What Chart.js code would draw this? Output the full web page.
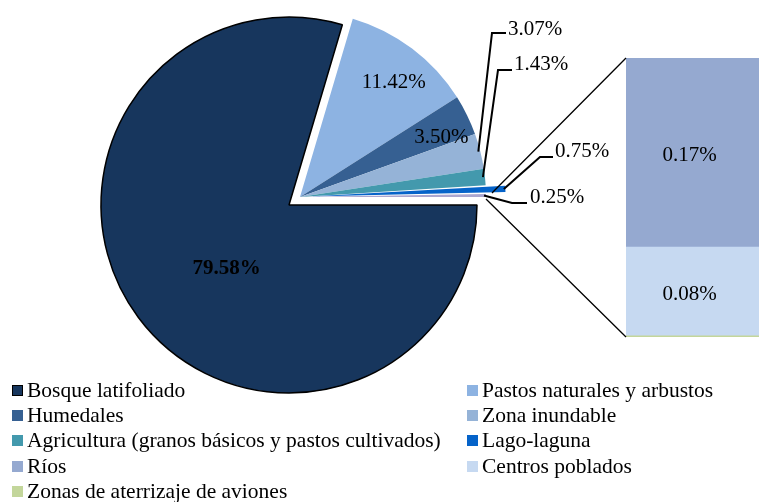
<!DOCTYPE html>
<html>
<head>
<meta charset="utf-8">
<script src="https://cdn.jsdelivr.net/npm/chart.js@4.4.1/dist/chart.umd.min.js"></script>
<style>
  body { margin: 0; width: 759px; height: 502px; overflow: hidden; background: #fff; position: relative;
         font-family: "Liberation Serif", "Times New Roman", serif; }
  canvas { position: absolute; left: 0; top: 0; }
  .item { position: absolute; font-size: 21.5px; line-height: 22px; white-space: nowrap; display: flex; align-items: center; color: #000; }
  .box { width: 11px; height: 11px; margin-right: 4px; box-sizing: border-box; }
</style>
</head>
<body>
<canvas id="pieBig" width="759" height="502"></canvas>
<canvas id="pieSmall" width="759" height="502"></canvas>
<canvas id="barOther" width="759" height="502"></canvas>
<div id="legend"></div>
<script>
// pie slices (percent of area)
var pieLabels = ['Bosque latifoliado', 'Pastos naturales y arbustos', 'Humedales', 'Zona inundable',
  'Agricultura (granos básicos y pastos cultivados)', 'Lago-laguna', 'Otros'];
var pieValues = [79.58, 11.42, 3.50, 3.07, 1.43, 0.75, 0.25];
var pieColors = ['#17365d', '#8db3e2', '#366092', '#95b3d7', '#4399ad', '#0563c9', '#aaa6cf'];

// the "Otros" slice broken out in the bar (bottom to top)
var barLabels = ['Zonas de aterrizaje de aviones', 'Centros poblados', 'Ríos'];
var barValues = [0.001, 0.08, 0.17];
var barColors = ['#c3d69b', '#c6d9f1', '#95a9d0'];

// legend order, row by row (two columns)
var legendLabels = ['Bosque latifoliado', 'Pastos naturales y arbustos', 'Humedales', 'Zona inundable',
  'Agricultura (granos básicos y pastos cultivados)', 'Lago-laguna', 'Ríos', 'Centros poblados',
  'Zonas de aterrizaje de aviones'];
var legendColors = ['#17365d', '#8db3e2', '#366092', '#95b3d7', '#4399ad', '#0563c9', '#95a9d0', '#c6d9f1', '#c3d69b'];

var FONT = '"Liberation Serif", "Times New Roman", serif';
var clear = 'rgba(0,0,0,0)';

function fmt(v) { return v.toFixed(2) + '%'; }

// labels inside slices: radial factor + small nudge
var insideLabels = {
  pieBig: [{ i: 0, f: 0.5, dx: 13, dy: 7, bold: true }],
  pieSmall: [{ i: 1, f: 0.8, dx: 4, dy: 4 }, { i: 2, f: 0.84, dx: 1, dy: 9 }]
};
// leader label layout: elbow, end of horizontal tick, text anchor
var leaderLayout = [
  { i: 3, elbow: [492, 33], end: [506, 33], text: [508, 29] },
  { i: 4, elbow: [498, 70], end: [512, 70], text: [514, 64] },
  { i: 5, elbow: [540, 157], end: [553, 157], text: [555, 151] },
  { i: 6, elbow: [512, 203], end: [527, 203], text: [530, 197] }
];

function midPoint(el, f, extra) {
  var a = (el.startAngle + el.endAngle) / 2;
  var r = el.outerRadius * f + (extra || 0);
  return [el.x + Math.cos(a) * r, el.y + Math.sin(a) * r];
}

var sliceLabelPlugin = {
  id: 'sliceLabels',
  afterDatasetsDraw: function (chart) {
    var ctx = chart.ctx;
    var meta = chart.getDatasetMeta(0);
    var id = chart.canvas.id;
    ctx.save();
    ctx.fillStyle = '#000';
    ctx.textBaseline = 'middle';
    (insideLabels[id] || []).forEach(function (l) {
      var p = midPoint(meta.data[l.i], l.f);
      ctx.font = (l.bold ? 'bold ' : '') + '21px ' + FONT;
      ctx.textAlign = 'center';
      ctx.fillText(fmt(pieValues[l.i]), p[0] + l.dx, p[1] + l.dy);
    });
    if (id === 'pieSmall') {
      ctx.strokeStyle = '#000';
      ctx.lineWidth = 2;
      leaderLayout.forEach(function (l) {
        var el = meta.data[l.i];
        var off = (el.options.offset || 0) / 2;
        var p = midPoint(el, 1, off - 2);
        ctx.beginPath();
        ctx.moveTo(p[0], p[1]);
        ctx.lineTo(l.elbow[0], l.elbow[1]);
        ctx.lineTo(l.end[0], l.end[1]);
        ctx.stroke();
        ctx.font = '21px ' + FONT;
        ctx.textAlign = 'left';
        ctx.fillText(fmt(pieValues[l.i]), l.text[0], l.text[1]);
      });
    }
    ctx.restore();
  }
};

function pieConfig(colors, borders, widths, offsets, radius, padding) {
  return {
    type: 'pie',
    data: {
      labels: pieLabels,
      datasets: [{
        data: pieValues,
        backgroundColor: colors,
        borderColor: borders,
        borderWidth: widths,
        offset: offsets,
        radius: radius
      }]
    },
    options: {
      responsive: false,
      animation: false,
      events: [],
      rotation: 90,
      layout: { padding: padding },
      plugins: { legend: { display: false }, tooltip: { enabled: false } }
    },
    plugins: [sliceLabelPlugin]
  };
}

// main slice, centred at (289,205)
var pieBig = new Chart(document.getElementById('pieBig'), pieConfig(
  pieColors.map(function (c, i) { return i === 0 ? c : clear; }),
  pieColors.map(function (c, i) { return i === 0 ? '#000' : clear; }),
  pieValues.map(function (v, i) { return i === 0 ? 1.5 : 0; }),
  0, 188,
  { left: 100, right: 281, top: 17, bottom: 109 }
));

// exploded group, centred at (300,197)
var pieSmall = new Chart(document.getElementById('pieSmall'), pieConfig(
  pieColors.map(function (c, i) { return i === 0 ? clear : c; }),
  clear,
  0,
  pieValues.map(function (v, i) { return i === 5 ? 40 : 0; }),
  186,
  { left: 114, right: 273, top: 11, bottom: 119 }
));

var connectorPlugin = {
  id: 'connectors',
  afterDatasetsDraw: function (chart) {
    var ctx = chart.ctx;
    var other = pieSmall.getDatasetMeta(0).data[6];
    var top = chart.getDatasetMeta(barValues.length - 1).data[0];
    var bottom = chart.getDatasetMeta(0).data[0];
    var left = chart.chartArea.left;
    var r = other.outerRadius;
    ctx.save();
    ctx.strokeStyle = '#000';
    ctx.lineWidth = 1.3;
    ctx.beginPath();
    ctx.moveTo(other.x + Math.cos(other.startAngle) * (r + 6), other.y + Math.sin(other.startAngle) * (r + 6) - 1);
    ctx.lineTo(left, top.y);
    ctx.moveTo(other.x + Math.cos(other.endAngle) * r, other.y + Math.sin(other.endAngle) * r + 2);
    ctx.lineTo(left, bottom.base);
    ctx.stroke();
    // value labels in the bar
    ctx.fillStyle = '#000';
    ctx.font = '21px ' + FONT;
    ctx.textAlign = 'center';
    ctx.textBaseline = 'middle';
    chart.data.datasets.forEach(function (ds, i) {
      if (ds.data[0] < 0.01) return;
      var el = chart.getDatasetMeta(i).data[0];
      ctx.fillText(fmt(ds.data[0]), el.x - 3, (el.y + el.base) / 2 + 3);
    });
    ctx.restore();
  }
};

var barOther = new Chart(document.getElementById('barOther'), {
  type: 'bar',
  data: {
    labels: ['Otros'],
    datasets: barLabels.map(function (lab, i) {
      return { label: lab, data: [barValues[i]], backgroundColor: barColors[i],
               borderWidth: 0, barPercentage: 1, categoryPercentage: 1 };
    })
  },
  options: {
    responsive: false,
    animation: false,
    events: [],
    layout: { padding: { left: 626, right: 0, top: 58, bottom: 165 } },
    scales: {
      x: { stacked: true, display: false },
      y: { stacked: true, display: false, min: 0,
           max: barValues.reduce(function (a, b) { return a + b; }, 0) }
    },
    plugins: { legend: { display: false }, tooltip: { enabled: false } }
  },
  plugins: [connectorPlugin]
});

// legend
var legend = document.getElementById('legend');
var rowY = [390, 415, 440, 466, 491];
legendLabels.forEach(function (lab, i) {
  var d = document.createElement('div');
  d.className = 'item';
  d.style.left = (i % 2 === 0 ? 12 : 467) + 'px';
  d.style.top = (rowY[Math.floor(i / 2)] - 11) + 'px';
  var b = document.createElement('span');
  b.className = 'box';
  b.style.background = legendColors[i];
  if (i === 0) b.style.border = '1.5px solid #000';
  d.appendChild(b);
  d.appendChild(document.createTextNode(lab));
  legend.appendChild(d);
});
</script>
</body>
</html>
